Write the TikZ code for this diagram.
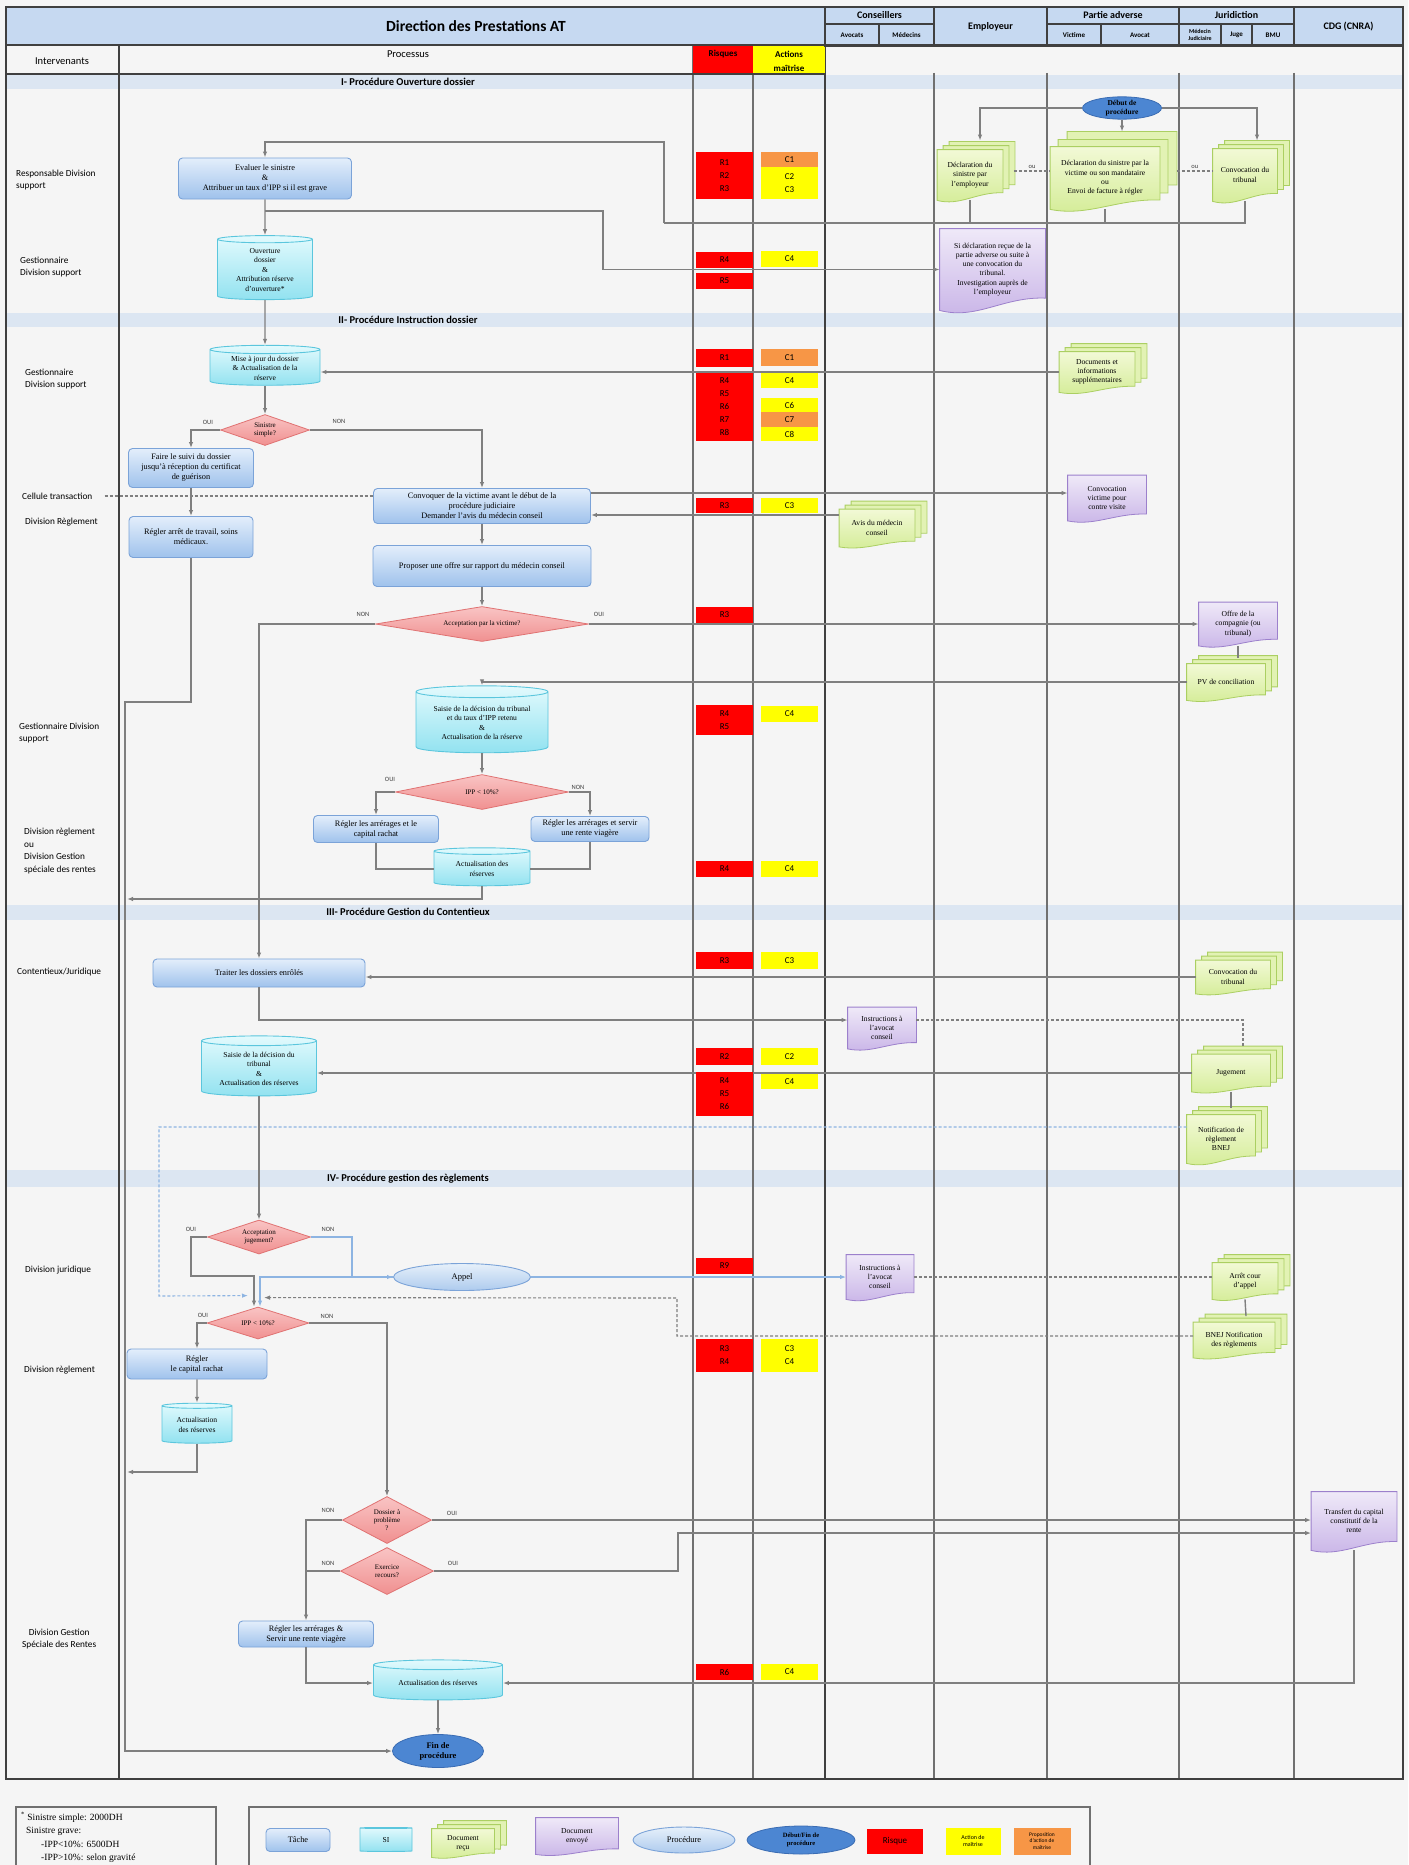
\documentclass[tikz,border=0pt]{standalone}
\usepackage{fontspec}
\setmainfont{Liberation Serif}
\setsansfont{Carlito}
\usetikzlibrary{positioning,shapes.geometric,shadows,calc,arrows.meta}

% couleurs
\definecolor{fond}{HTML}{F5F5F5}
\definecolor{bleuentete}{HTML}{C6D9F1}
\definecolor{bande}{HTML}{DCE6F2}
\definecolor{cadre}{HTML}{404040}
\definecolor{couloir}{HTML}{707070}
\definecolor{trait}{HTML}{7F7F7F}
\definecolor{traitbleu}{HTML}{8DB4E2}
\definecolor{tachehaut}{HTML}{E3EEFB}
\definecolor{tachebas}{HTML}{9FC2EC}
\definecolor{tachebord}{HTML}{7BA3D8}
\definecolor{sihaut}{HTML}{E2FAFD}
\definecolor{sibas}{HTML}{92E2F0}
\definecolor{sibord}{HTML}{5BC6DD}
\definecolor{verthaut}{HTML}{F2F9D6}
\definecolor{vertbas}{HTML}{D3EC95}
\definecolor{vertarriere}{HTML}{E2F2B4}
\definecolor{vertbord}{HTML}{ABCF62}
\definecolor{mauvehaut}{HTML}{EFE9F8}
\definecolor{mauvebas}{HTML}{C8B3E7}
\definecolor{mauvebord}{HTML}{9C80CC}
\definecolor{loshaut}{HTML}{F9C4C4}
\definecolor{losbas}{HTML}{F09090}
\definecolor{losbord}{HTML}{E07272}
\definecolor{bleufonce}{HTML}{4C86D2}
\definecolor{bleufoncebord}{HTML}{3A6CB3}
\definecolor{prochaut}{HTML}{E6F0FA}
\definecolor{procbas}{HTML}{AECBEE}
\definecolor{rouge}{HTML}{FF0000}
\definecolor{jaune}{HTML}{FFFF00}
\definecolor{orangec}{HTML}{F79646}

% forme document (bas ondule)
\makeatletter
\newdimen\feuilxa \newdimen\feuilya \newdimen\feuilxb \newdimen\feuilyb
\newdimen\feuilw \newdimen\feuilh \newdimen\feuilr
\newdimen\feuilpx \newdimen\feuilpy \newdimen\feuilqx \newdimen\feuilqy
\pgfdeclareshape{feuille}{%
  \inheritsavedanchors[from=rectangle]%
  \inheritanchorborder[from=rectangle]%
  \inheritanchor[from=rectangle]{center}%
  \inheritanchor[from=rectangle]{north}%
  \inheritanchor[from=rectangle]{south}%
  \inheritanchor[from=rectangle]{east}%
  \inheritanchor[from=rectangle]{west}%
  \inheritanchor[from=rectangle]{north east}%
  \inheritanchor[from=rectangle]{north west}%
  \inheritanchor[from=rectangle]{south east}%
  \inheritanchor[from=rectangle]{south west}%
  \inheritanchor[from=rectangle]{mid}%
  \inheritanchor[from=rectangle]{base}%
  \backgroundpath{%
    \southwest \feuilxa=\pgf@x \feuilya=\pgf@y
    \northeast \feuilxb=\pgf@x \feuilyb=\pgf@y
    \feuilw=\feuilxb \advance\feuilw by -\feuilxa
    \feuilh=\feuilyb \advance\feuilh by -\feuilya
    \feuilr=\feuilya \advance\feuilr by 0.15\feuilh
    \feuilpx=\feuilxa \advance\feuilpx by 0.6\feuilw
    \feuilpy=\feuilya \advance\feuilpy by 0.17\feuilh
    \feuilqx=\feuilxa \advance\feuilqx by 0.35\feuilw
    \feuilqy=\feuilya \advance\feuilqy by -0.12\feuilh
    \pgfpathmoveto{\pgfqpoint{\feuilxa}{\feuilyb}}%
    \pgfpathlineto{\pgfqpoint{\feuilxb}{\feuilyb}}%
    \pgfpathlineto{\pgfqpoint{\feuilxb}{\feuilr}}%
    \pgfpathcurveto{\pgfqpoint{\feuilpx}{\feuilpy}}{\pgfqpoint{\feuilqx}{\feuilqy}}{\pgfqpoint{\feuilxa}{\feuilya}}%
    \pgfpathclose
  }%
}
\makeatother

\tikzset{
  tache/.style={rectangle, rounded corners=4pt, draw=tachebord, line width=0.9pt,
    top color=tachehaut, bottom color=tachebas, align=center, inner sep=1pt,
    font=\fontsize{8.3}{10}\selectfont},
  si/.style={cylinder, shape border rotate=90, aspect=0.12, draw=sibord, line width=0.9pt,
    top color=sihaut, bottom color=sibas, align=center, inner sep=1pt,
    font=\fontsize{7.6}{9.5}\selectfont},
  docrecu/.style={feuille, draw=vertbord, line width=0.8pt, top color=verthaut,
    bottom color=vertbas, align=center, inner sep=1pt, font=\fontsize{7.6}{9.3}\selectfont},
  docpile/.style={docrecu,
    copy shadow={shadow xshift=12pt, shadow yshift=8pt, fill=vertarriere, draw=vertbord, line width=0.8pt},
    copy shadow={shadow xshift=6pt, shadow yshift=4pt, fill=vertarriere, draw=vertbord, line width=0.8pt}},
  docpilelarge/.style={docrecu,
    copy shadow={shadow xshift=17pt, shadow yshift=15pt, fill=vertarriere, draw=vertbord, line width=0.8pt},
    copy shadow={shadow xshift=8pt, shadow yshift=7pt, fill=vertarriere, draw=vertbord, line width=0.8pt}},
  docenvoye/.style={feuille, draw=mauvebord, line width=0.8pt, top color=mauvehaut,
    bottom color=mauvebas, align=center, inner sep=1pt, font=\fontsize{7.6}{9.3}\selectfont},
  decision/.style={diamond, draw=losbord, line width=0.8pt, top color=loshaut,
    bottom color=losbas, align=center, inner sep=0pt, font=\fontsize{7}{8}\selectfont},
  procedure/.style={ellipse, draw=tachebord, line width=0.9pt, top color=prochaut,
    bottom color=procbas, inner sep=0pt, font=\fontsize{8.5}{10}\selectfont},
  debutfin/.style={ellipse, draw=bleufoncebord, fill=bleufonce, line width=0.8pt,
    align=center, inner sep=0pt, font=\bfseries\fontsize{7.5}{9}\selectfont},
  risque/.style={rectangle, fill=rouge, minimum width=57, inner sep=0pt, align=center,
    font=\sffamily\fontsize{9}{13}\selectfont},
  action/.style={risque, fill=jaune},
  propaction/.style={risque, fill=orangec},
  flow/.style={draw=trait, line width=1.4pt, -{Latex[length=6pt,width=4.5pt]}},
  link/.style={draw=trait, line width=1.4pt},
  flowbleu/.style={draw=traitbleu, line width=1.4pt, -{Latex[length=6pt,width=4.5pt]}},
  pointille/.style={draw=trait, line width=1.1pt, dash pattern=on 3pt off 2pt},
  pointbleu/.style={draw=traitbleu, line width=1.1pt, dash pattern=on 3pt off 2pt,
    -{Latex[length=6pt,width=4.5pt]}},
  choix/.style={font=\sffamily\fontsize{6.5}{7.5}\selectfont, inner sep=0pt, text=black!75},
  acteur/.style={font=\sffamily\fontsize{9.3}{12.5}\selectfont, align=left, anchor=west, inner sep=0pt},
  titresection/.style={font=\sffamily\bfseries\fontsize{10.5}{12}\selectfont, inner sep=0pt},
  hlabel/.style={font=\sffamily\fontsize{10.5}{12}\selectfont, inner sep=0pt, align=center},
  entete/.style={rectangle, draw=cadre, line width=1.2pt, fill=bleuentete, inner sep=0pt,
    align=center, font=\sffamily\bfseries\fontsize{10}{11}\selectfont},
  sousentete/.style={entete, font=\sffamily\bfseries\fontsize{7}{7.5}\selectfont},
}

\begin{document}
\begin{tikzpicture}[x=1pt,y=-1pt]
\useasboundingbox (0,0) rectangle (1408,1865);
\fill[fond] (0,0) rectangle (1408,1865);

% bandes des procedures
\foreach \ya/\yb in {75/89, 313/327, 905/920, 1170/1187}
  \fill[bande] (6,\ya) rectangle (1403,\yb);
\node[titresection] (secI) at (408,82) {I- Procédure Ouverture dossier};
\node[titresection] (secII) at (408,320) {II- Procédure Instruction dossier};
\node[titresection] (secIII) at (408,912) {III- Procédure Gestion du Contentieux};
\node[titresection] (secIV) at (408,1179) {IV- Procédure gestion des règlements};

% couloirs
\draw[cadre, line width=2pt] (119,45) -- (119,1779);
\draw[cadre, line width=2pt] (825,7) -- (825,1779);
\foreach \x in {693,753}
  \draw[couloir, line width=2pt] (\x,46) -- (\x,1779);
\foreach \x in {934,1047,1179,1294}
  \draw[couloir, line width=2pt] (\x,73) -- (\x,1779);

% en-tete
\fill[bleuentete] (6,7) rectangle (825,45);
\node[font=\sffamily\bfseries\fontsize{15.5}{17}\selectfont] (titre) at (476,26) {Direction des Prestations AT};
\fill[rouge] (693,46) rectangle (753,74);
\fill[jaune] (753,46) rectangle (825,74);
\node[hlabel] (hinterv) at (62,61) {Intervenants};
\node[hlabel] (hproc) at (408,54) {Processus};
\node[hlabel, font=\sffamily\bfseries\fontsize{9}{11}\selectfont] (hrisq) at (723,54) {Risques};
\node[hlabel, font=\sffamily\bfseries\fontsize{9}{14}\selectfont] (hact) at (789,61) {Actions\\maîtrise};
\node[entete, minimum width=109, minimum height=17] (hcons) at (879.5,15.5) {Conseillers};
\node[sousentete, minimum width=54, minimum height=22] (havoc) at (852,35) {Avocats};
\node[sousentete, minimum width=55, minimum height=22] (hmed) at (906.5,35) {Médecins};
\node[entete, minimum width=113, minimum height=39] (hemp) at (990.5,26.5) {Employeur};
\node[entete, minimum width=132, minimum height=17] (hpartie) at (1113,15.5) {Partie adverse};
\node[sousentete, minimum width=54, minimum height=22] (hvict) at (1074,35) {Victime};
\node[sousentete, minimum width=78, minimum height=22] (havoc2) at (1140,35) {Avocat};
\node[entete, minimum width=115, minimum height=17] (hjur) at (1236.5,15.5) {Juridiction};
\node[sousentete, minimum width=42, minimum height=22, font=\sffamily\bfseries\fontsize{6}{7}\selectfont] (hmedj) at (1200,35) {Médecin\\Judiciaire};
\node[sousentete, minimum width=31, minimum height=22] (hjuge) at (1236.5,35) {Juge};
\node[sousentete, minimum width=42, minimum height=22] (hbmu) at (1273,35) {BMU};
\node[entete, minimum width=109, minimum height=39] (hcdg) at (1348.5,26.5) {CDG (CNRA)};
\draw[cadre, line width=2.5pt] (6,45) -- (825,45);
\draw[cadre, line width=2.5pt] (6,74) -- (825,74);
\draw[cadre, line width=3pt] (825,46) -- (1403,46);
\draw[cadre, line width=2pt] (6,7) rectangle (1403,1779);

% intervenants
\node[acteur] (actA) at (16,180) {Responsable Division\\support};
\node[acteur] (actB) at (20,267) {Gestionnaire\\Division support};
\node[acteur] (actC) at (25,379) {Gestionnaire\\Division support};
\node[acteur] (actD) at (22,496) {Cellule transaction};
\node[acteur] (actE) at (25,522) {Division Règlement};
\node[acteur] (actF) at (19,733) {Gestionnaire Division\\support};
\node[acteur] (actG) at (24,851) {Division règlement\\ou\\Division Gestion\\spéciale des rentes};
\node[acteur] (actH) at (17,972) {Contentieux/Juridique};
\node[acteur] (actI) at (25,1270) {Division juridique};
\node[acteur] (actJ) at (24,1370) {Division règlement};
\node[acteur, align=center] (actK) at (22,1639) {Division Gestion\\Spéciale des Rentes};

% I- ouverture dossier
\node[debutfin, minimum width=79, minimum height=22] (debut) at (1122,108) {Début de\\procédure};
\node[docpile, minimum width=65, minimum height=50] (declemp) at (970,175) {Déclaration du\\sinistre par\\l'employeur};
\node[docpilelarge, minimum width=109, minimum height=62] (declvic) at (1105,178) {Déclaration du sinistre par la\\victime ou son mandataire\\ou\\Envoi de facture à régler};
\node[docpile, minimum width=64, minimum height=52] (convtrib1) at (1245,175) {Convocation du\\tribunal};
\node[tache, minimum width=173, minimum height=41] (evaluer) at (265,178.5) {Evaluer le sinistre\\\&\\Attribuer un taux d'IPP si il est grave};
\node[si, minimum width=95, minimum height=64] (ouverture) at (265,270) {Ouverture\\dossier\\\&\\Attribution réserve\\d'ouverture*};
\node[docenvoye, minimum width=105, minimum height=81] (investig) at (992.5,269.5) {Si déclaration reçue de la\\partie adverse ou suite à\\une convocation du\\tribunal.\\Investigation auprès de\\l'employeur};

% II- instruction dossier
\node[si, minimum width=110, minimum height=40] (majdossier) at (265,368) {Mise à jour du dossier\\\& Actualisation de la\\réserve};
\node[docpile, minimum width=75, minimum height=40] (docsupp) at (1097,372) {Documents et\\informations\\supplémentaires};
\node[decision, aspect=2.9, minimum width=89, minimum height=31] (sinsimple) at (265,430) {Sinistre\\simple?};
\node[tache, minimum width=125, minimum height=39] (suivi) at (191,468) {Faire le suivi du dossier\\jusqu'à réception du certificat\\de guérison};
\node[tache, minimum width=124, minimum height=41] (reglerarret) at (191,537) {Régler arrêt de travail, soins\\médicaux.};
\node[tache, minimum width=217, minimum height=35] (convoquer) at (482,506) {Convoquer de la victime avant le début de la\\procédure judiciaire\\Demander l'avis du médecin conseil};
\node[docpile, minimum width=75, minimum height=37] (avismed) at (877,528) {Avis du médecin\\conseil};
\node[docenvoye, minimum width=78, minimum height=45] (convvic) at (1107,498) {Convocation\\victime pour\\contre visite};
\node[tache, minimum width=218, minimum height=41] (proposer) at (482,566) {Proposer une offre sur rapport du médecin conseil};
\node[decision, aspect=6, minimum width=213, minimum height=35] (acceptvic) at (482,624) {Acceptation par la victime?};
\node[docenvoye, minimum width=78, minimum height=43] (offre) at (1238,624) {Offre de la\\compagnie (ou\\tribunal)};
\node[docpile, minimum width=78, minimum height=36] (pvconc) at (1226,682) {PV de conciliation};
\node[si, minimum width=132, minimum height=67] (saisie1) at (482,723) {Saisie de la décision du tribunal\\et du taux d'IPP retenu\\\&\\Actualisation de la réserve};
\node[decision, aspect=5, minimum width=173, minimum height=35] (ipp1) at (482,792) {IPP < 10\%?};
\node[tache, minimum width=125, minimum height=27] (reglrachat1) at (376,829) {Régler les arrérages et le\\capital rachat};
\node[tache, minimum width=118, minimum height=25] (reglrente1) at (590,829) {Régler les arrérages et servir\\une rente viagère};
\node[si, minimum width=96, minimum height=38] (actres1) at (482,869) {Actualisation des\\réserves};

% III- contentieux
\node[tache, minimum width=212, minimum height=28] (traiter) at (259,973) {Traiter les dossiers enrôlés};
\node[docpile, minimum width=74, minimum height=33] (convtrib2) at (1233,977) {Convocation du\\tribunal};
\node[docenvoye, minimum width=68, minimum height=41] (instr1) at (882,1028) {Instructions à\\l'avocat\\conseil};
\node[docpile, minimum width=78, minimum height=37] (jugement) at (1231,1073) {Jugement};
\node[docpile, minimum width=68, minimum height=48] (notif) at (1221,1139) {Notification de\\règlement\\BNEJ};
\node[si, minimum width=115, minimum height=60] (saisie2) at (259,1069) {Saisie de la décision du\\tribunal\\\&\\Actualisation des réserves};

% IV- reglements
\node[decision, aspect=3, minimum width=103, minimum height=34] (acceptjug) at (259,1237) {Acceptation\\jugement?};
\node[procedure, minimum width=137, minimum height=27] (appel) at (462,1277) {Appel};
\node[docenvoye, minimum width=67, minimum height=44] (instr2) at (880,1277) {Instructions à\\l'avocat\\conseil};
\node[docpile, minimum width=65, minimum height=36] (arret) at (1245,1281) {Arrêt cour\\d'appel};
\node[docpile, minimum width=81, minimum height=35] (bnej) at (1234,1340) {BNEJ Notification\\des règlements};
\node[decision, aspect=3, minimum width=102, minimum height=32] (ipp2) at (258,1323) {IPP < 10\%?};
\node[tache, minimum width=140, minimum height=30] (reglrachat2) at (197,1364) {Régler\\le capital rachat};
\node[si, minimum width=70, minimum height=40] (actres2) at (197,1425) {Actualisation\\des réserves};
\node[decision, aspect=1.9, minimum width=89, minimum height=47] (probleme) at (387,1520) {Dossier à\\problème\\?};
\node[decision, aspect=2, minimum width=93, minimum height=47] (recours) at (387,1571) {Exercice\\recours?};
\node[docenvoye, minimum width=85, minimum height=58] (transfert) at (1354,1521) {Transfert du capital\\constitutif de la\\rente};
\node[tache, minimum width=135, minimum height=26] (reglrente2) at (306,1634) {Régler les arrérages \&\\Servir une rente viagère};
\node[si, minimum width=129, minimum height=40] (actres3) at (438,1683) {Actualisation des réserves};
\node[debutfin, minimum width=91, minimum height=33, font=\bfseries\fontsize{8.5}{10}\selectfont] (fin) at (438,1751) {Fin de\\procédure};

% points de passage
\coordinate (jonctionI) at (664,223);
\coordinate (retourI) at (664,142);
\coordinate (brancheI) at (265,211);
\coordinate (brancheIb) at (603,211);
\coordinate (retourG) at (125,702);
\coordinate (retourG2) at (127,899);
\coordinate (retourG3) at (127,1472);
\coordinate (boucleIV) at (159,1296);
\coordinate (ouiIV) at (191,1276);
\coordinate (nonIV) at (352,1277);
\coordinate (bnejIV) at (677,1298);
\coordinate (recoursIV) at (678,1533);

% connecteurs I
\draw[flow] (debut.west) -| ([xshift=10pt,yshift=9pt]declemp.north);
\draw[flow] (debut.south) -- ([xshift=17pt,yshift=15pt]declvic.north);
\draw[flow] (debut.east) -| ([xshift=12pt,yshift=8pt]convtrib1.north);
\draw[pointille] ($(declemp.east)+(11,-4)$) -- node[choix, above=2pt]{ou} ($(declvic.west)+(0,-7)$);
\draw[pointille] ($(declvic.east)+(17,-7)$) -- node[choix, above=2pt]{ou} ($(convtrib1.west)+(0,-4)$);
\draw[link] (convtrib1.south) |- (jonctionI);
\draw[link] (declvic.south) -- (declvic.south |- jonctionI);
\draw[link] (declemp.south) -- (declemp.south |- jonctionI);
\draw[flow] (jonctionI) -- (retourI) -| (evaluer.north);
\draw[flow] (evaluer.south) -- (ouverture.north);
\draw[flow] (brancheI) -- (brancheIb) |- (investig.west);

% connecteurs II
\draw[flow] (ouverture.south) -- (majdossier.north);
\draw[flow] (docsupp.west) -- (docsupp.west -| majdossier.east);
\draw[flow] (majdossier.south) -- (sinsimple.north);
\draw[flow] (sinsimple.west) -| (suivi.north);
\draw[flow] (sinsimple.east) -| (convoquer.north);
\draw[flow] (suivi.south) -- (reglerarret.north);
\draw[flow] (reglerarret.south) |- (retourG) |- (fin.west);
\draw[pointille] ($(actD.east)+(12,0)$) -- (actD.east -| convoquer.west);
\draw[flow] ($(avismed.west)+(0,-13)$) -- ($(convoquer.east)+(0,9)$);
\draw[flow] ($(convoquer.east)+(0,-13)$) -- ($(convvic.west)+(0,-5)$);
\draw[flow] (convoquer.south) -- (proposer.north);
\draw[flow] (proposer.south) -- (acceptvic.north);
\draw[flow] (acceptvic.west) -| (traiter.north);
\draw[flow] (acceptvic.east) -- (offre.west);
\draw[link] (offre.south) -- ($(pvconc.north)+(12,-6)$);
\draw[flow] (pvconc.west) -| (saisie1.north);
\draw[flow] (saisie1.south) -- (ipp1.north);
\draw[flow] (ipp1.west) -| (reglrachat1.north);
\draw[flow] (ipp1.east) -| (reglrente1.north);
\draw[link] (reglrachat1.south) |- (actres1.west);
\draw[link] (reglrente1.south) |- (actres1.east);
\draw[flow] (actres1.south) |- (retourG2);

% connecteurs III
\draw[flow] (convtrib2.west) -- (convtrib2.west -| traiter.east);
\draw[flow] (traiter.south) |- ($(instr1.west)+(0,-8)$);
\draw[pointille] ($(instr1.east)+(0,-8)$) -| ($(jugement.north)+(12,-8)$);
\draw[flow] (jugement.west) -- (jugement.west -| saisie2.east);
\draw[link] (jugement.south) -- ($(notif.north)+(10,-7)$);
\draw[pointbleu] ($(notif.west)+(0,-12)$) -| (boucleIV) -- ($(ipp2.north)+(-10,-11)$);
\draw[flow] (saisie2.south) -- (acceptjug.north);

% connecteurs IV
\draw[flow] (acceptjug.west) -| (ouiIV) -| ($(ipp2.north)+(-4,0)$);
\draw[flowbleu] (acceptjug.east) -| (nonIV) -- (appel.west);
\draw[flowbleu] (appel.west) -| ($(ipp2.north)+(2,0)$);
\draw[flowbleu] (appel.east) -- (instr2.west);
\draw[pointille] (instr2.east) -- (instr2.east -| arret.west);
\draw[link] (arret.south) -- ($(bnej.north)+(12,-6)$);
\draw[pointille, -{Latex[length=6pt,width=4.5pt]}] ($(bnej.west)+(0,-4)$) -| (bnejIV) -- ($(ipp2.north)+(6,-9)$);
\draw[flow] (ipp2.west) -| (reglrachat2.north);
\draw[flow] (ipp2.east) -| (probleme.north);
\draw[flow] (reglrachat2.south) -- (actres2.north);
\draw[flow] (actres2.south) |- (retourG3);
\draw[flow] (probleme.west) -| (reglrente2.north);
\draw[link] (recours.west) -- (recours.west -| reglrente2.north);
\draw[flow] (probleme.east) -- (probleme.east -| transfert.west);
\draw[flow] (recours.east) -| (recoursIV) -- (recoursIV -| transfert.west);
\draw[flow] (transfert.south) |- (actres3.east);
\draw[flow] (reglrente2.south) |- (actres3.west);
\draw[flow] (actres3.south) -- (fin.north);

% OUI / NON
\node[choix] (c1) at (208,422) {OUI};
\node[choix] (c2) at (339,421) {NON};
\node[choix] (c3) at (363,614) {NON};
\node[choix] (c4) at (599,614) {OUI};
\node[choix] (c5) at (390,779) {OUI};
\node[choix] (c6) at (578,787) {NON};
\node[choix] (c7) at (191,1229) {OUI};
\node[choix] (c8) at (328,1229) {NON};
\node[choix] (c9) at (203,1315) {OUI};
\node[choix] (c10) at (327,1316) {NON};
\node[choix] (c11) at (328,1510) {NON};
\node[choix] (c12) at (452,1513) {OUI};
\node[choix] (c13) at (328,1563) {NON};
\node[choix] (c14) at (453,1563) {OUI};

% risques et actions de maitrise
\node[risque, minimum height=47] (rq1) at (724.5,175.5) {R1\\R2\\R3};
\node[propaction, minimum height=15] (ac1) at (789.5,159.5) {C1};
\node[action, minimum height=32] (ac2) at (789.5,183) {C2\\C3};
\node[risque, minimum height=16] (rq2) at (724.5,260) {R4};
\node[action, minimum height=16] (ac3) at (789.5,259) {C4};
\node[risque, minimum height=16] (rq3) at (724.5,281) {R5};
\node[risque, minimum height=18] (rq4) at (724.5,358) {R1};
\node[propaction, minimum height=17] (ac4) at (789.5,357.5) {C1};
\node[risque, minimum height=68] (rq5) at (724.5,407) {R4\\R5\\R6\\R7\\R8};
\node[action, minimum height=15] (ac5) at (789.5,380.5) {C4};
\node[action, minimum height=14] (ac6) at (789.5,405) {C6};
\node[propaction, minimum height=15] (ac7) at (789.5,419.5) {C7};
\node[action, minimum height=14] (ac8) at (789.5,434) {C8};
\node[risque, minimum height=15] (rq6) at (724.5,505.5) {R3};
\node[action, minimum height=15] (ac9) at (789.5,505.5) {C3};
\node[risque, minimum height=16] (rq7) at (724.5,615) {R3};
\node[risque, minimum height=30] (rq8) at (724.5,720) {R4\\R5};
\node[action, minimum height=16] (ac10) at (789.5,714) {C4};
\node[risque, minimum height=16] (rq9) at (724.5,869) {R4};
\node[action, minimum height=16] (ac11) at (789.5,869) {C4};
\node[risque, minimum height=17] (rq10) at (724.5,960.5) {R3};
\node[action, minimum height=17] (ac12) at (789.5,960.5) {C3};
\node[risque, minimum height=17] (rq11) at (724.5,1056.5) {R2};
\node[action, minimum height=17] (ac13) at (789.5,1056.5) {C2};
\node[risque, minimum height=44] (rq12) at (724.5,1094) {R4\\R5\\R6};
\node[action, minimum height=15] (ac14) at (789.5,1081.5) {C4};
\node[risque, minimum height=16] (rq13) at (724.5,1266) {R9};
\node[risque, minimum height=33] (rq14) at (724.5,1355.5) {R3\\R4};
\node[action, minimum height=33] (ac15) at (789.5,1355.5) {C3\\C4};
\node[risque, minimum height=16] (rq15) at (724.5,1672) {R6};
\node[action, minimum height=16] (ac16) at (789.5,1672) {C4};

% legende
\draw[couloir, line width=1.2pt] (16,1870) |- (216,1807) -- (216,1870);
\node[anchor=north west, align=left, inner sep=0pt, font=\fontsize{9.5}{13.5}\selectfont] (notesin) at (21,1812)
  {\textsuperscript{*} Sinistre simple: 2000DH\\\hspace*{5pt}Sinistre grave:\\\hspace*{20pt}-IPP<10\%: 6500DH\\\hspace*{20pt}-IPP>10\%: selon gravité};
\draw[couloir, line width=1.2pt] (249,1870) |- (1090,1807) -- (1090,1870);
\node[tache, minimum width=64, minimum height=23] (lgtache) at (298,1840) {Tâche};
\node[si, minimum width=52, minimum height=24] (lgsi) at (386,1840) {SI};
\node[docpile, minimum width=62, minimum height=28] (lgrecu) at (463,1843) {Document\\reçu};
\node[docenvoye, minimum width=82, minimum height=36] (lgenvoye) at (577,1836) {Document\\envoyé};
\node[procedure, minimum width=102, minimum height=26] (lgproc) at (684,1840) {Procédure};
\node[debutfin, minimum width=108, minimum height=28, font=\bfseries\fontsize{6.5}{7.5}\selectfont] (lgdebut) at (801,1840) {Début/Fin de\\procédure};
\node[risque, minimum width=56, minimum height=25] (lgrisque) at (895,1841) {Risque};
\node[action, minimum width=55, minimum height=27, font=\sffamily\fontsize{6}{7.5}\selectfont] (lgaction) at (973,1841) {Action de\\maîtrise};
\node[propaction, minimum height=27, font=\sffamily\fontsize{5.5}{6.5}\selectfont] (lgprop) at (1042,1841) {Proposition\\d'action de\\maîtrise};
\end{tikzpicture}
\end{document}
